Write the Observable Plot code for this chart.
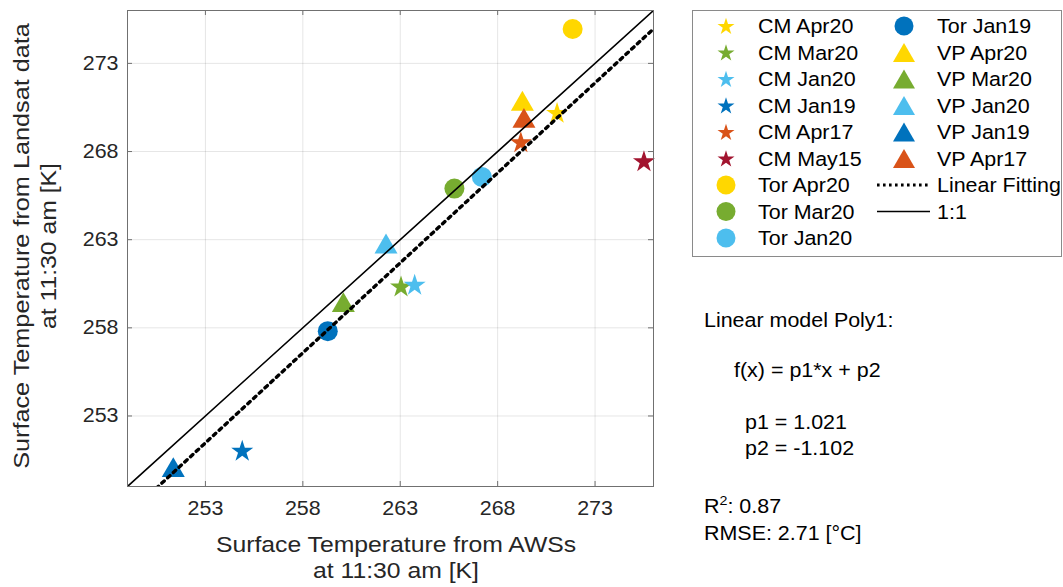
<!DOCTYPE html>
<html>
<head>
<meta charset="utf-8">
<script src="https://cdn.jsdelivr.net/npm/d3@7"></script>
<script src="https://cdn.jsdelivr.net/npm/@observablehq/plot@0.6"></script>
<style>
  body { margin: 0; background: #fff; }
  #chart { width: 1063px; height: 587px; overflow: hidden; }
</style>
</head>
<body>
<div id="chart"></div>
<script>
// ---------------- data ----------------
const names = ["CM Apr20","CM Mar20","CM Jan20","CM Jan19","CM Apr17","CM May15",
               "Tor Apr20","Tor Mar20","Tor Jan20","Tor Jan19",
               "VP Apr20","VP Mar20","VP Jan20","VP Jan19","VP Apr17"];
const awsTemp     = [271.05,263.04,263.74,254.89,269.19,275.51,
                     271.85,265.78,267.19,259.28,
                     269.27,260.08,262.27,251.35,269.35];
const landsatTemp = [270.16,260.31,260.41,250.99,268.49,267.41,
                     274.95,265.90,266.56,257.81,
                     270.69,259.27,262.60,249.91,269.72];
const tickValues = [253, 258, 263, 268, 273];
const axisDomain = [249, 276];
const p1 = 1.021, p2 = -1.102;   // fit in °C
const r2 = 0.87, rmse = 2.71;
const dateOrder  = ["Apr20","Mar20","Jan20","Jan19","Apr17","May15"];
const lineLabels = ["Linear Fitting", "1:1"];

// ---------------- styles ----------------
const dateColors = ["#FFD700","#77AC30","#4DBEEE","#0072BD","#D95319","#A2142F"];
const FONT = "'Liberation Sans', Arial, Helvetica, sans-serif";
const STRETCH = 1.1;
const DOTS = "3.2,4.6";

const rows = names.map((n, i) => ({
  name: n, site: n.split(" ")[0], date: n.split(" ")[1], x: awsTemp[i], y: landsatTemp[i]
}));
const K0 = 273.15;
const fit = x => p1 * (x - K0) + p2 + K0;

const frameH = 587 - 10 - 101, frameW = 1063 - 127 - 410;
const frameColor = "#707070";

const plot = Plot.plot({
  width: 1063, height: 587,
  marginLeft: 127, marginRight: 410, marginTop: 10, marginBottom: 101,
  style: { fontFamily: FONT, fontSize: "19.5px", color: "#262626", background: "white" },
  x: { domain: axisDomain },
  y: { domain: axisDomain },
  color: { domain: dateOrder, range: dateColors },
  marks: [
    Plot.gridX(tickValues, { stroke: "#000", strokeOpacity: 0.1 }),
    Plot.gridY(tickValues, { stroke: "#000", strokeOpacity: 0.1 }),
    Plot.tickX(tickValues, { x: d => d, insetTop: frameH - 5, stroke: frameColor }),
    Plot.tickX(tickValues, { x: d => d, insetBottom: frameH - 5, stroke: frameColor }),
    Plot.tickY(tickValues, { y: d => d, insetRight: frameW - 5, stroke: frameColor }),
    Plot.tickY(tickValues, { y: d => d, insetLeft: frameW - 5, stroke: frameColor }),
    Plot.axisX(tickValues, { tickSize: 0, tickPadding: 15, label: null, fill: "#262626" }),
    Plot.axisY(tickValues, { tickSize: 0, tickPadding: 9, label: null, fill: "#262626" }),
    Plot.dot(rows.filter(d => d.site === "CM"),  { x: "x", y: "y", fill: "date", symbol: "star", r: 6.92 }),
    Plot.dot(rows.filter(d => d.site === "Tor"), { x: "x", y: "y", fill: "date", symbol: "circle", r: 10 }),
    Plot.dot(rows.filter(d => d.site === "VP"),  { x: "x", y: "y", fill: "date", symbol: "triangle", r: 8.54 }),
    Plot.line(axisDomain, { x: d => d, y: d => d, stroke: "#000", strokeWidth: 1.6, clip: true }),
    Plot.line(axisDomain, { x: d => d, y: d => fit(d), stroke: "#000", strokeWidth: 3.4,
                            strokeDasharray: DOTS, clip: true }),
    Plot.frame({ stroke: frameColor })
  ]
});

document.getElementById("chart").appendChild(plot);
const svg = d3.select(plot);

// stretch tick labels horizontally to match the reference's wide glyphs
svg.selectAll('g[aria-label$="tick label"] text').each(function () {
  const t = this.getAttribute("transform") || "";
  this.setAttribute("transform", t + ` scale(${STRETCH},1)`);
});

// ---------------- axis titles ----------------
const titles = svg.append("g").attr("font-family", FONT).attr("font-size", 22.5).attr("fill", "#262626")
  .attr("text-anchor", "middle");
titles.append("text").attr("transform", `translate(396,551.5) scale(${STRETCH},1)`).text("Surface Temperature from AWSs");
titles.append("text").attr("transform", `translate(396,577.5) scale(${STRETCH},1)`).text("at 11:30 am [K]");
titles.append("text").attr("transform", `translate(29,246) rotate(-90) scale(${STRETCH * 1.02},1)`).text("Surface Temperature from Landsat data");
titles.append("text").attr("transform", `translate(56,246) rotate(-90) scale(${STRETCH},1)`).text("at 11:30 am [K]");

// ---------------- legend ----------------
const leg = svg.append("g").attr("font-family", FONT).attr("font-size", 19.5).attr("fill", "#000")
  .attr("text-anchor", "start");
leg.append("rect").attr("x", 692.5).attr("y", 10.5).attr("width", 369).attr("height", 246)
  .attr("fill", "white").attr("stroke", "#8a8a8a").attr("stroke-width", 1);
const color = d3.scaleOrdinal(dateOrder, dateColors);
const legendShape = {
  CM:  { type: d3.symbolStar, size: 90, dy: 0.8 },
  Tor: { type: d3.symbolCircle, size: 283, dy: 0 },
  VP:  { type: d3.symbolTriangle, size: 209, dy: 3.2 }
};
const rowY = i => 26 + 26.5 * i;
const entries = rows.map(d => ({ kind: "marker", ...d }))
  .concat(lineLabels.map(l => ({ kind: "line", name: l })));
entries.forEach((e, i) => {
  const col = i < 9 ? 0 : 1;
  const r = col === 0 ? i : i - 9;
  const y = rowY(r);
  const mx = col === 0 ? 726 : 904;
  const tx = col === 0 ? 758 : 937;
  if (e.kind === "marker") {
    const s = legendShape[e.site];
    leg.append("path").attr("d", d3.symbol(s.type, s.size)())
      .attr("transform", `translate(${mx},${y + s.dy})`).attr("fill", color(e.date));
  } else {
    const ln = leg.append("line").attr("x1", 877).attr("x2", 930).attr("y1", y).attr("y2", y)
      .attr("stroke", "#000");
    if (e.name === "Linear Fitting") ln.attr("stroke-width", 3).attr("stroke-dasharray", "2.6,3.4");
    else ln.attr("stroke-width", 1.3);
  }
  leg.append("text").attr("transform", `translate(${tx},${y + 7}) scale(${STRETCH},1)`).text(e.name);
});

// ---------------- fit annotation ----------------
const ann = svg.append("g").attr("font-family", FONT).attr("font-size", 19.5).attr("fill", "#000")
  .attr("text-anchor", "start");
const annText = (x, y, s) => ann.append("text").attr("transform", `translate(${x},${y}) scale(${STRETCH},1)`).text(s);
annText(704, 327, "Linear model Poly1:");
annText(734, 377, "f(x) = p1*x + p2");
annText(745, 429, `p1 = ${p1.toFixed(3)}`);
annText(745, 455, `p2 = ${p2.toFixed(3)}`);
const r2t = ann.append("text").attr("transform", `translate(704,513) scale(${STRETCH},1)`);
r2t.append("tspan").text("R");
r2t.append("tspan").attr("font-size", 13).attr("dy", -8).text("2");
r2t.append("tspan").attr("dy", 8).text(`: ${r2.toFixed(2)}`);
annText(704, 540, `RMSE: ${rmse.toFixed(2)} [°C]`);
</script>
</body>
</html>
